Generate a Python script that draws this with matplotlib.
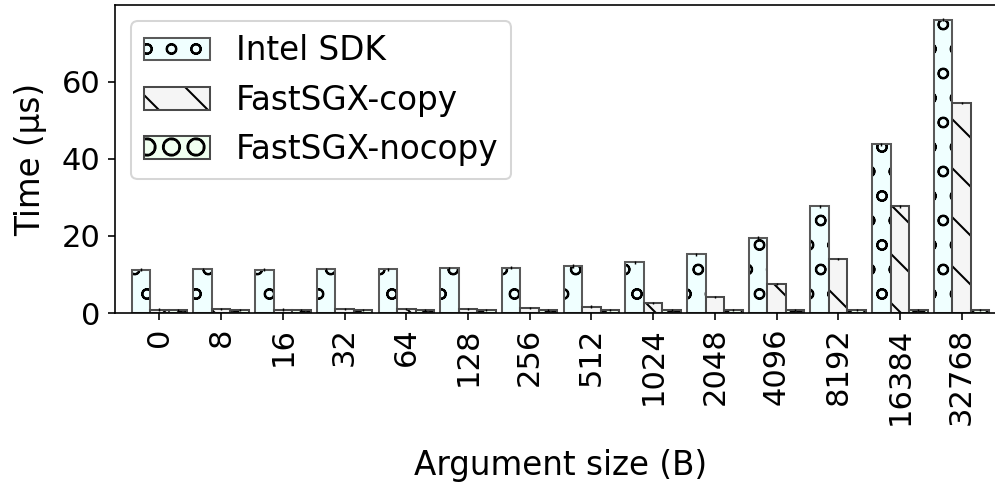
import numpy as np
import matplotlib.pyplot as plt

# argument sizes (bytes) and mean call time (us)
sizes = ['0', '8', '16', '32', '64', '128', '256', '512',
         '1024', '2048', '4096', '8192', '16384', '32768']
intel_sdk = [11.2, 11.4, 11.2, 11.4, 11.4, 11.6, 11.7, 12.2,
             13.2, 15.3, 19.5, 27.7, 43.8, 76.2]
fastsgx_copy = [0.9, 1.0, 0.9, 1.0, 1.0, 1.1, 1.3, 1.65,
                2.6, 4.2, 7.45, 14.1, 27.7, 54.6]
fastsgx_nocopy = [0.8, 0.8, 0.8, 0.8, 0.8, 0.8, 0.7, 0.7,
                  0.7, 0.7, 0.7, 0.7, 0.7, 0.8]
intel_err = [0.4] * len(sizes)
copy_err = [0.3] * len(sizes)
nocopy_err = [0.3] * len(sizes)

dpi = 147
fig = plt.figure(figsize=(995 / dpi, 484 / dpi), dpi=dpi)
ax = fig.add_axes([0.1156, 0.3533, 0.8955, 0.6364])

x = np.arange(len(sizes))
w = 0.3
err_kw = dict(ecolor='black', elinewidth=0.7, capsize=0)

series = [
    (x - w, intel_sdk, intel_err, 'azure', 'o', '#5a5a5a', 'Intel SDK'),
    (x, fastsgx_copy, copy_err, 'whitesmoke', '\\', '#4a4a4a', 'FastSGX-copy'),
    (x + w, fastsgx_nocopy, nocopy_err, 'honeydew', 'O', '#4a4a4a', 'FastSGX-nocopy'),
]

handles = []
labels = []
for xs, ys, err, fc, hatch, ec, name in series:
    # filled + black hatch first, then the grey outline and error bars on top
    fill = ax.bar(xs, ys, w, color=fc, edgecolor='black', linewidth=0, hatch=hatch)
    edge = ax.bar(xs, ys, w, yerr=err, fill=False, edgecolor=ec, linewidth=1,
                  error_kw=err_kw)
    handles.append((fill[0], edge[0]))
    labels.append(name)

ax.set_xlim(-0.72, 13.72)
ax.set_ylim(0, 80)
ax.set_yticks([0, 20, 40, 60])
ax.set_xticks(x)
ax.set_xticklabels(sizes, rotation=90)
ax.tick_params(labelsize=15)

ax.set_xlabel('Argument size (B)', fontsize=16, labelpad=12)
ax.set_ylabel('Time (µs)', fontsize=16, labelpad=7)
ax.legend(handles, labels, loc='upper left', fontsize=16)

fig.savefig('out.png', dpi=dpi)
